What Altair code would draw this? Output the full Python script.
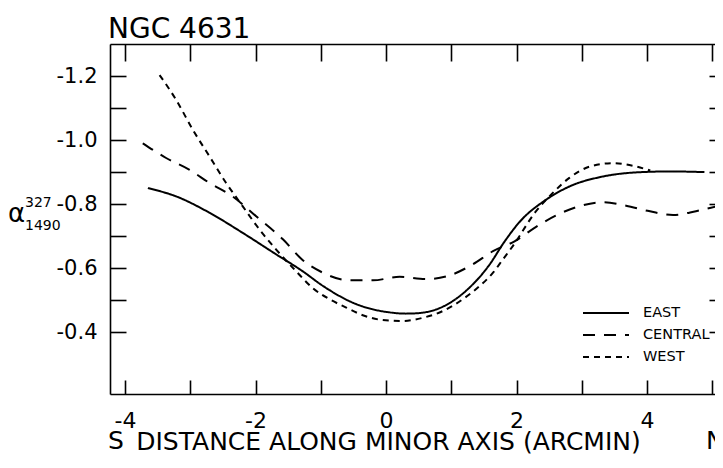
import altair as alt
import pandas as pd

FONT = "DejaVu Sans"

TITLE = "NGC 4631"
X_TITLE = "DISTANCE ALONG MINOR AXIS (ARCMIN)"
LEFT_END = "S"
RIGHT_END = "N"
Y_SYMBOL = "α"
Y_SUP = "327"
Y_SUB = "1490"

SERIES = ["EAST", "CENTRAL", "WEST"]

EAST_X = [-3.65, -3.215, -2.705, -2.195, -1.683, -1.275, -0.97, -0.46, 0.05, 0.30, 0.46, 0.82,
          1.23, 1.59, 1.80, 2.05, 2.455, 2.81, 3.32, 3.83, 4.35, 4.88]
EAST_Y = [-0.850, -0.824, -0.773, -0.710, -0.643, -0.590, -0.545, -0.488, -0.462, -0.458, -0.459, -0.475,
          -0.530, -0.612, -0.678, -0.745, -0.814, -0.855, -0.886, -0.899, -0.902, -0.900]

CENTRAL_X = [-3.727, -3.37, -3.01, -2.705, -2.35, -1.99, -1.58, -1.275, -0.97, -0.56, -0.2, 0.21, 0.62,
             0.97, 1.33, 1.64, 1.97, 2.30, 2.60, 2.955, 3.32, 3.68, 4.01, 4.40, 4.75, 5.16]
CENTRAL_Y = [-0.99, -0.944, -0.907, -0.866, -0.824, -0.762, -0.690, -0.625, -0.586, -0.562, -0.562, -0.573,
             -0.566, -0.577, -0.612, -0.653, -0.684, -0.729, -0.764, -0.793, -0.806, -0.795, -0.779,
             -0.766, -0.778, -0.798]

WEST_X = [-3.47, -3.215, -2.96, -2.705, -2.45, -2.195, -1.94, -1.683, -1.376, -1.12, -0.866, -0.61,
          -0.356, -0.05, 0.257, 0.564, 0.87, 1.177, 1.433, 1.637, 1.79, 1.943, 2.30, 2.556, 2.81, 3.12,
          3.476, 3.78, 4.05]
WEST_Y = [-1.203, -1.125, -1.032, -0.949, -0.866, -0.793, -0.721, -0.658, -0.590, -0.537, -0.503, -0.477,
          -0.453, -0.438, -0.435, -0.445, -0.466, -0.503, -0.544, -0.585, -0.627, -0.669, -0.778, -0.835,
          -0.882, -0.917, -0.928, -0.920, -0.905]

X_TICKS = [-4, -3, -2, -1, 0, 1, 2, 3, 4, 5]
Y_TICKS = [-1.2, -1.1, -1.0, -0.9, -0.8, -0.7, -0.6, -0.5, -0.4]

rows = []
for name, xs, ys in [("EAST", EAST_X, EAST_Y), ("CENTRAL", CENTRAL_X, CENTRAL_Y), ("WEST", WEST_X, WEST_Y)]:
    for xv, yv in zip(xs, ys):
        rows.append({"series": name, "x": xv, "y": yv})
df = pd.DataFrame(rows)

W, H = 605, 350
xscale = alt.Scale(domain=[-4.23, 5.042], nice=False, zero=False)
yscale = alt.Scale(domain=[-1.3, -0.207], nice=False, zero=False, reverse=True)

x_bottom = alt.Axis(orient="bottom", values=X_TICKS, domain=True, domainColor="black", domainWidth=1.6,
                    ticks=True, tickColor="black", tickWidth=1.6, tickSize={"expr": "-14"},
                    labelExpr="datum.value % 2 == 0 ? replace(format(datum.value, 'd'), '\u2212', '-') : ''",
                    labelFont=FONT, labelFontSize=22, labelColor="black", labelPadding=30,
                    grid=False, title=X_TITLE, titleFont=FONT, titleFontSize=25,
                    titleFontWeight="normal", titleColor="black", titleX=278, titleY=55,
                    titleAlign="center", titleBaseline="alphabetic")
y_left = alt.Axis(orient="left", values=Y_TICKS, domain=True, domainColor="black", domainWidth=1.6,
                  ticks=True, tickColor="black", tickWidth=1.6, tickSize={"expr": "-16"},
                  labelExpr="abs(round(datum.value * 10)) % 2 == 0 ? replace(format(datum.value, '.1f'), '\u2212', '-') : ''",
                  labelFont=FONT, labelFontSize=21, labelColor="black", labelPadding=29,
                  grid=False, title=None)
x_top = alt.Axis(orient="top", values=X_TICKS, domain=True, domainColor="black", domainWidth=1.6,
                 ticks=True, tickColor="black", tickWidth=1.6, tickSize={"expr": "-17"},
                 labels=False, grid=False, title=None)
y_right = alt.Axis(orient="right", values=Y_TICKS, domain=False,
                   ticks=True, tickColor="black", tickWidth=1.6, tickSize={"expr": "-6"},
                   labels=False, grid=False, title=None)

lines = alt.Chart(df).mark_line(color="black", strokeWidth=2, interpolate="monotone", clip=True).encode(
    x=alt.X("x:Q", scale=xscale, axis=x_bottom),
    y=alt.Y("y:Q", scale=yscale, axis=y_left),
    strokeDash=alt.StrokeDash(
        "series:N",
        scale=alt.Scale(domain=SERIES, range=[[1, 0], [12, 9], [6, 5]]),
        legend=alt.Legend(orient="none", legendX=472, legendY=260, title=None,
                          symbolType="stroke", symbolSize=2116, symbolStrokeWidth=1.8,
                          symbolStrokeColor="black", labelFont=FONT, labelFontSize=14.5,
                          labelColor="black", labelOffset=13, clipHeight=18, rowPadding=4,
                          padding=0),
    ),
)

ghost = alt.Chart(df).mark_line(opacity=0, clip=True).encode(
    x=alt.X("x:Q", scale=xscale, axis=x_top),
    y=alt.Y("y:Q", scale=yscale, axis=y_right),
    detail="series:N",
)

def label(text, x, y, size, align="left"):
    return alt.Chart(pd.DataFrame({"t": [text]})).mark_text(
        font=FONT, fontSize=size, color="black", align=align, baseline="alphabetic"
    ).encode(text="t:N", x=alt.value(x), y=alt.value(y))

title = label(TITLE, -2, -6.5, 28)
s_lab = label(LEFT_END, -2, 405, 25)
n_lab = label(RIGHT_END, 596, 405, 25)
alpha = label(Y_SYMBOL, -102, 178, 26)
sup = label(Y_SUP, -85, 163, 14)
sub = label(Y_SUB, -85, 186, 14)

chart = alt.layer(lines, ghost, title, s_lab, n_lab, alpha, sup, sub).resolve_axis(
    x="independent", y="independent"
).properties(
    width=W, height=H, autosize=alt.AutoSizeParams(type="none"),
    padding={"left": 102, "top": 36, "right": 0, "bottom": 61},
).configure_view(strokeOpacity=0).configure(background="white")

chart.save("out.html", embed_options={"renderer": "svg", "actions": False})
